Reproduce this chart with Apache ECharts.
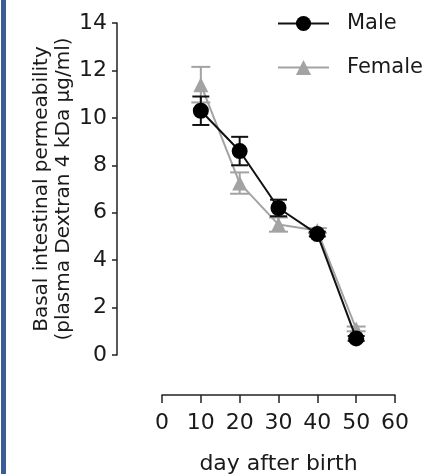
<!DOCTYPE html>
<html>
<head>
<meta charset="utf-8">
<script src="https://cdn.jsdelivr.net/npm/echarts@6/dist/echarts.min.js"></script>
<style>
html,body{margin:0;padding:0;background:#fff;}
#c{width:434px;height:474px;}
</style>
</head>
<body>
<div id="c"></div>
<script>
const days = [10, 20, 30, 40, 50];
const maleMean = [10.3, 8.6, 6.2, 5.1, 0.7];
const maleErr = [0.6, 0.6, 0.35, 0.1, 0.1];
const femaleMean = [11.4, 7.25, 5.5, 5.25, 1.1];
const femaleErr = [0.75, 0.45, 0.3, 0.1, 0.1];
const yTicks = [0, 2, 4, 6, 8, 10, 12, 14];
const xTicks = [0, 10, 20, 30, 40, 50, 60];

const FONT = 'DejaVu Sans';
const TXT = '#1a1a1a';
const GRAY = '#a3a3a3';
const AX = '#222';

function pts(xs, ys) { return xs.map((x, i) => [x, ys[i]]); }
function errData(xs, m, e) { return xs.map((x, i) => [x, m[i] - e[i], m[i] + e[i]]); }

function errRender(color, capW) {
  return function (params, api) {
    const x = api.value(0);
    const lo = api.coord([x, api.value(1)]);
    const hi = api.coord([x, api.value(2)]);
    const st = { stroke: color, lineWidth: 2 };
    return {
      type: 'group',
      children: [
        { type: 'line', shape: { x1: lo[0], y1: lo[1], x2: hi[0], y2: hi[1] }, style: st },
        { type: 'line', shape: { x1: lo[0] - capW / 2, y1: lo[1], x2: lo[0] + capW / 2, y2: lo[1] }, style: st },
        { type: 'line', shape: { x1: hi[0] - capW / 2, y1: hi[1], x2: hi[0] + capW / 2, y2: hi[1] }, style: st }
      ]
    };
  };
}

const xMin = xTicks[0], xMax = xTicks[xTicks.length - 1];
const yMin = yTicks[0], yMax = yTicks[yTicks.length - 1];
const hidden = { show: false };

const chart = echarts.init(document.getElementById('c'));
chart.setOption({
  animation: false,
  backgroundColor: '#fff',
  graphic: [{ type: 'rect', shape: { x: 1, y: 0, width: 5, height: 474 }, style: { fill: '#3a5d96' } }],
  legend: {
    orient: 'vertical',
    left: 272,
    top: 8,
    itemWidth: 51,
    itemHeight: 19,
    itemGap: 23,
    data: ['Male', 'Female'],
    textStyle: { fontFamily: FONT, fontSize: 21, color: TXT, padding: [0, 0, 0, 13] }
  },
  grid: [
    { left: 162, top: 23, width: 233, height: 332, containLabel: false, outerBoundsMode: 'none' },
    { left: 117, top: 23, width: 1, height: 332, containLabel: false, outerBoundsMode: 'none' },
    { left: 162, top: 63, width: 233, height: 332, containLabel: false, outerBoundsMode: 'none' }
  ],
  xAxis: [
    { gridIndex: 0, type: 'value', min: xMin, max: xMax, show: false },
    { gridIndex: 1, type: 'value', min: 0, max: 1, show: false },
    {
      gridIndex: 2, type: 'value', min: xMin, max: xMax, interval: 10,
      position: 'bottom',
      splitLine: hidden,
      axisLine: { show: true, onZero: false, lineStyle: { color: AX, width: 1.5 } },
      axisTick: { show: true, inside: false, length: 8, lineStyle: { color: AX, width: 1.5 } },
      axisLabel: { fontFamily: FONT, fontSize: 22, color: TXT, margin: 17 },
      name: 'day after birth',
      nameLocation: 'middle',
      nameGap: 58,
      nameTextStyle: { fontFamily: FONT, fontSize: 22, color: TXT }
    }
  ],
  yAxis: [
    { gridIndex: 0, type: 'value', min: yMin, max: yMax, show: false },
    {
      gridIndex: 1, type: 'value', min: yMin, max: yMax, interval: 2,
      splitLine: hidden,
      axisLine: { show: true, onZero: false, lineStyle: { color: AX, width: 1.5 } },
      axisTick: { show: true, length: 5, lineStyle: { color: AX, width: 1.5 } },
      axisLabel: { fontFamily: FONT, fontSize: 22, color: TXT, margin: 10 },
      name: 'Basal intestinal permeability\n(plasma Dextran 4 kDa µg/ml)',
      nameLocation: 'middle',
      nameRotate: 90,
      nameGap: 42,
      nameTextStyle: { fontFamily: FONT, fontSize: 20, color: TXT, lineHeight: 22, align: 'center' }
    },
    { gridIndex: 2, type: 'value', min: 0, max: 1, show: false }
  ],
  series: [
    {
      name: 'FemaleErr', type: 'custom', renderItem: errRender(GRAY, 19),
      xAxisIndex: 0, yAxisIndex: 0,
      data: errData(days, femaleMean, femaleErr), z: 2, silent: true,
      encode: { x: 0, y: [1, 2] }
    },
    {
      name: 'Female', type: 'line', data: pts(days, femaleMean),
      xAxisIndex: 0, yAxisIndex: 0,
      symbol: 'triangle', symbolSize: 15,
      itemStyle: { color: GRAY }, lineStyle: { color: GRAY, width: 2 }, z: 3
    },
    {
      name: 'MaleErr', type: 'custom', renderItem: errRender('#111', 17),
      xAxisIndex: 0, yAxisIndex: 0,
      data: errData(days, maleMean, maleErr), z: 4, silent: true,
      encode: { x: 0, y: [1, 2] }
    },
    {
      name: 'Male', type: 'line', data: pts(days, maleMean),
      xAxisIndex: 0, yAxisIndex: 0,
      symbol: 'circle', symbolSize: 16,
      itemStyle: { color: '#000' }, lineStyle: { color: '#111', width: 2 }, z: 5
    }
  ]
});
</script>
</body>
</html>
